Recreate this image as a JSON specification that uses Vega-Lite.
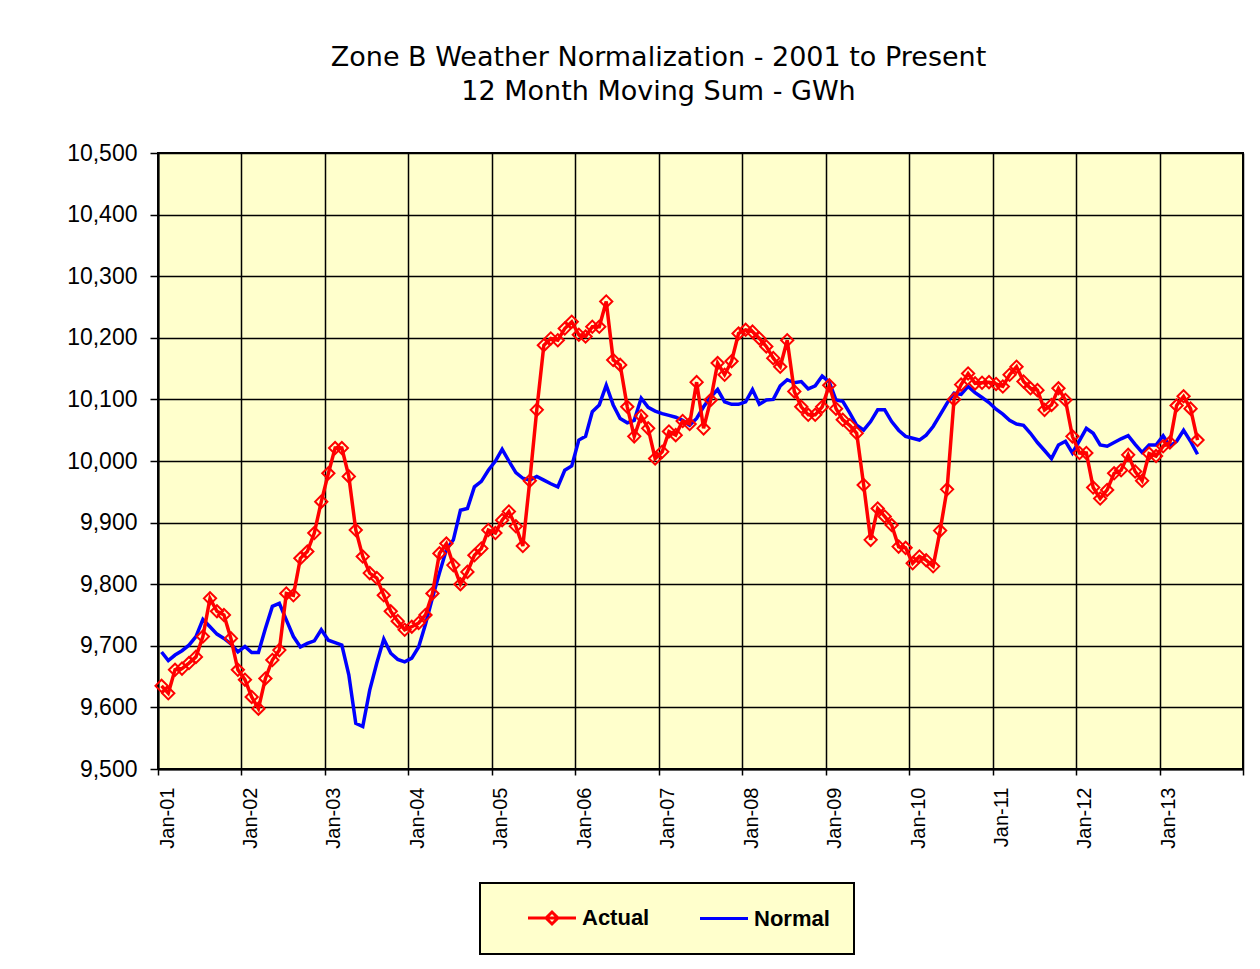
{
  "$schema": "https://vega.github.io/schema/vega-lite/v6.json",
  "width": 1085,
  "height": 616,
  "autosize": {"type": "none"},
  "padding": {"left": 158, "top": 153, "right": 17, "bottom": 200},
  "background": "white",
  "title": {
    "text": ["Zone B Weather Normalization - 2001 to Present", "12 Month Moving Sum - GWh"],
    "font": "DejaVu Sans",
    "fontSize": 27,
    "fontWeight": "normal",
    "color": "black",
    "anchor": "middle",
    "frame": "group",
    "dx": -42,
    "offset": 36,
    "lineHeight": 34
  },
  "config": {
    "view": {"fill": "#FFFFCC", "stroke": "black", "strokeWidth": 2}
  },
  "data": {
    "values": [
      {"d": "2001-01", "Actual": 9635, "Normal": 9690},
      {"d": "2001-02", "Actual": 9623, "Normal": 9676},
      {"d": "2001-03", "Actual": 9661, "Normal": 9685},
      {"d": "2001-04", "Actual": 9663, "Normal": 9692},
      {"d": "2001-05", "Actual": 9672, "Normal": 9701},
      {"d": "2001-06", "Actual": 9682, "Normal": 9715},
      {"d": "2001-07", "Actual": 9715, "Normal": 9743},
      {"d": "2001-08", "Actual": 9777, "Normal": 9731},
      {"d": "2001-09", "Actual": 9756, "Normal": 9719},
      {"d": "2001-10", "Actual": 9750, "Normal": 9712},
      {"d": "2001-11", "Actual": 9712, "Normal": 9703},
      {"d": "2001-12", "Actual": 9661, "Normal": 9690},
      {"d": "2002-01", "Actual": 9645, "Normal": 9699},
      {"d": "2002-02", "Actual": 9617, "Normal": 9689},
      {"d": "2002-03", "Actual": 9598, "Normal": 9689},
      {"d": "2002-04", "Actual": 9647, "Normal": 9728},
      {"d": "2002-05", "Actual": 9677, "Normal": 9764},
      {"d": "2002-06", "Actual": 9693, "Normal": 9769},
      {"d": "2002-07", "Actual": 9785, "Normal": 9742},
      {"d": "2002-08", "Actual": 9782, "Normal": 9715},
      {"d": "2002-09", "Actual": 9842, "Normal": 9698},
      {"d": "2002-10", "Actual": 9853, "Normal": 9704},
      {"d": "2002-11", "Actual": 9883, "Normal": 9708},
      {"d": "2002-12", "Actual": 9934, "Normal": 9726},
      {"d": "2003-01", "Actual": 9980, "Normal": 9709},
      {"d": "2003-02", "Actual": 10021, "Normal": 9705},
      {"d": "2003-03", "Actual": 10021, "Normal": 9701},
      {"d": "2003-04", "Actual": 9975, "Normal": 9653},
      {"d": "2003-05", "Actual": 9888, "Normal": 9574},
      {"d": "2003-06", "Actual": 9845, "Normal": 9569},
      {"d": "2003-07", "Actual": 9818, "Normal": 9628},
      {"d": "2003-08", "Actual": 9810, "Normal": 9672},
      {"d": "2003-09", "Actual": 9782, "Normal": 9711},
      {"d": "2003-10", "Actual": 9756, "Normal": 9688},
      {"d": "2003-11", "Actual": 9740, "Normal": 9678},
      {"d": "2003-12", "Actual": 9726, "Normal": 9674},
      {"d": "2004-01", "Actual": 9731, "Normal": 9680},
      {"d": "2004-02", "Actual": 9737, "Normal": 9698},
      {"d": "2004-03", "Actual": 9750, "Normal": 9735},
      {"d": "2004-04", "Actual": 9785, "Normal": 9778},
      {"d": "2004-05", "Actual": 9850, "Normal": 9818},
      {"d": "2004-06", "Actual": 9866, "Normal": 9856},
      {"d": "2004-07", "Actual": 9831, "Normal": 9872},
      {"d": "2004-08", "Actual": 9800, "Normal": 9920},
      {"d": "2004-09", "Actual": 9820, "Normal": 9923},
      {"d": "2004-10", "Actual": 9847, "Normal": 9958},
      {"d": "2004-11", "Actual": 9858, "Normal": 9967},
      {"d": "2004-12", "Actual": 9888, "Normal": 9985},
      {"d": "2005-01", "Actual": 9883, "Normal": 10000},
      {"d": "2005-02", "Actual": 9904, "Normal": 10019},
      {"d": "2005-03", "Actual": 9918, "Normal": 10000},
      {"d": "2005-04", "Actual": 9894, "Normal": 9981},
      {"d": "2005-05", "Actual": 9862, "Normal": 9972},
      {"d": "2005-06", "Actual": 9968, "Normal": 9969},
      {"d": "2005-07", "Actual": 10083, "Normal": 9975},
      {"d": "2005-08", "Actual": 10188, "Normal": 9969},
      {"d": "2005-09", "Actual": 10199, "Normal": 9963},
      {"d": "2005-10", "Actual": 10196, "Normal": 9958},
      {"d": "2005-11", "Actual": 10215, "Normal": 9985},
      {"d": "2005-12", "Actual": 10226, "Normal": 9992},
      {"d": "2006-01", "Actual": 10205, "Normal": 10034},
      {"d": "2006-02", "Actual": 10202, "Normal": 10040},
      {"d": "2006-03", "Actual": 10218, "Normal": 10080},
      {"d": "2006-04", "Actual": 10218, "Normal": 10091},
      {"d": "2006-05", "Actual": 10259, "Normal": 10123},
      {"d": "2006-06", "Actual": 10164, "Normal": 10091},
      {"d": "2006-07", "Actual": 10156, "Normal": 10069},
      {"d": "2006-08", "Actual": 10088, "Normal": 10062},
      {"d": "2006-09", "Actual": 10040, "Normal": 10066},
      {"d": "2006-10", "Actual": 10073, "Normal": 10102},
      {"d": "2006-11", "Actual": 10053, "Normal": 10087},
      {"d": "2006-12", "Actual": 10004, "Normal": 10081},
      {"d": "2007-01", "Actual": 10015, "Normal": 10077},
      {"d": "2007-02", "Actual": 10048, "Normal": 10074},
      {"d": "2007-03", "Actual": 10042, "Normal": 10071},
      {"d": "2007-04", "Actual": 10065, "Normal": 10066},
      {"d": "2007-05", "Actual": 10060, "Normal": 10058},
      {"d": "2007-06", "Actual": 10128, "Normal": 10069},
      {"d": "2007-07", "Actual": 10053, "Normal": 10088},
      {"d": "2007-08", "Actual": 10099, "Normal": 10104},
      {"d": "2007-09", "Actual": 10159, "Normal": 10116},
      {"d": "2007-10", "Actual": 10140, "Normal": 10096},
      {"d": "2007-11", "Actual": 10162, "Normal": 10092},
      {"d": "2007-12", "Actual": 10207, "Normal": 10092},
      {"d": "2008-01", "Actual": 10213, "Normal": 10096},
      {"d": "2008-02", "Actual": 10210, "Normal": 10116},
      {"d": "2008-03", "Actual": 10199, "Normal": 10092},
      {"d": "2008-04", "Actual": 10186, "Normal": 10099},
      {"d": "2008-05", "Actual": 10167, "Normal": 10100},
      {"d": "2008-06", "Actual": 10153, "Normal": 10122},
      {"d": "2008-07", "Actual": 10196, "Normal": 10132},
      {"d": "2008-08", "Actual": 10113, "Normal": 10127},
      {"d": "2008-09", "Actual": 10088, "Normal": 10129},
      {"d": "2008-10", "Actual": 10075, "Normal": 10117},
      {"d": "2008-11", "Actual": 10075, "Normal": 10122},
      {"d": "2008-12", "Actual": 10088, "Normal": 10138},
      {"d": "2009-01", "Actual": 10123, "Normal": 10128},
      {"d": "2009-02", "Actual": 10085, "Normal": 10099},
      {"d": "2009-03", "Actual": 10067, "Normal": 10097},
      {"d": "2009-04", "Actual": 10058, "Normal": 10078},
      {"d": "2009-05", "Actual": 10045, "Normal": 10058},
      {"d": "2009-06", "Actual": 9961, "Normal": 10050},
      {"d": "2009-07", "Actual": 9872, "Normal": 10064},
      {"d": "2009-08", "Actual": 9923, "Normal": 10083},
      {"d": "2009-09", "Actual": 9910, "Normal": 10083},
      {"d": "2009-10", "Actual": 9896, "Normal": 10064},
      {"d": "2009-11", "Actual": 9861, "Normal": 10050},
      {"d": "2009-12", "Actual": 9859, "Normal": 10040},
      {"d": "2010-01", "Actual": 9834, "Normal": 10037},
      {"d": "2010-02", "Actual": 9845, "Normal": 10034},
      {"d": "2010-03", "Actual": 9839, "Normal": 10042},
      {"d": "2010-04", "Actual": 9829, "Normal": 10056},
      {"d": "2010-05", "Actual": 9887, "Normal": 10075},
      {"d": "2010-06", "Actual": 9954, "Normal": 10094},
      {"d": "2010-07", "Actual": 10100, "Normal": 10110},
      {"d": "2010-08", "Actual": 10124, "Normal": 10108},
      {"d": "2010-09", "Actual": 10142, "Normal": 10121},
      {"d": "2010-10", "Actual": 10126, "Normal": 10111},
      {"d": "2010-11", "Actual": 10127, "Normal": 10103},
      {"d": "2010-12", "Actual": 10128, "Normal": 10095},
      {"d": "2011-01", "Actual": 10125, "Normal": 10084},
      {"d": "2011-02", "Actual": 10121, "Normal": 10076},
      {"d": "2011-03", "Actual": 10140, "Normal": 10066},
      {"d": "2011-04", "Actual": 10153, "Normal": 10060},
      {"d": "2011-05", "Actual": 10129, "Normal": 10058},
      {"d": "2011-06", "Actual": 10118, "Normal": 10045},
      {"d": "2011-07", "Actual": 10115, "Normal": 10030},
      {"d": "2011-08", "Actual": 10083, "Normal": 10017},
      {"d": "2011-09", "Actual": 10091, "Normal": 10004},
      {"d": "2011-10", "Actual": 10118, "Normal": 10026},
      {"d": "2011-11", "Actual": 10099, "Normal": 10032},
      {"d": "2011-12", "Actual": 10040, "Normal": 10013},
      {"d": "2012-01", "Actual": 10013, "Normal": 10033},
      {"d": "2012-02", "Actual": 10013, "Normal": 10053},
      {"d": "2012-03", "Actual": 9957, "Normal": 10045},
      {"d": "2012-04", "Actual": 9939, "Normal": 10026},
      {"d": "2012-05", "Actual": 9953, "Normal": 10024},
      {"d": "2012-06", "Actual": 9980, "Normal": 10030},
      {"d": "2012-07", "Actual": 9985, "Normal": 10036},
      {"d": "2012-08", "Actual": 10010, "Normal": 10041},
      {"d": "2012-09", "Actual": 9983, "Normal": 10027},
      {"d": "2012-10", "Actual": 9968, "Normal": 10014},
      {"d": "2012-11", "Actual": 10012, "Normal": 10026},
      {"d": "2012-12", "Actual": 10008, "Normal": 10026},
      {"d": "2013-01", "Actual": 10024, "Normal": 10041},
      {"d": "2013-02", "Actual": 10030, "Normal": 10024},
      {"d": "2013-03", "Actual": 10090, "Normal": 10032},
      {"d": "2013-04", "Actual": 10105, "Normal": 10050},
      {"d": "2013-05", "Actual": 10085, "Normal": 10032},
      {"d": "2013-06", "Actual": 10034, "Normal": 10011}
    ]
  },
  "transform": [{"fold": ["Actual", "Normal"], "as": ["series", "value"]}],
  "encoding": {
    "x": {
      "field": "d",
      "timeUnit": "utcyearmonth",
      "type": "temporal",
      "bandPosition": 0.5,
      "scale": {
        "domain": [
          {"year": 2001, "month": 1, "date": 1, "utc": true},
          {"year": 2014, "month": 1, "date": 1, "utc": true}
        ]
      },
      "axis": {
        "title": null,
        "values": [
          {"year": 2001, "month": 1, "date": 1, "utc": true},
          {"year": 2002, "month": 1, "date": 1, "utc": true},
          {"year": 2003, "month": 1, "date": 1, "utc": true},
          {"year": 2004, "month": 1, "date": 1, "utc": true},
          {"year": 2005, "month": 1, "date": 1, "utc": true},
          {"year": 2006, "month": 1, "date": 1, "utc": true},
          {"year": 2007, "month": 1, "date": 1, "utc": true},
          {"year": 2008, "month": 1, "date": 1, "utc": true},
          {"year": 2009, "month": 1, "date": 1, "utc": true},
          {"year": 2010, "month": 1, "date": 1, "utc": true},
          {"year": 2011, "month": 1, "date": 1, "utc": true},
          {"year": 2012, "month": 1, "date": 1, "utc": true},
          {"year": 2013, "month": 1, "date": 1, "utc": true},
          {"year": 2014, "month": 1, "date": 1, "utc": true}
        ],
        "format": "%b-%y",
        "labelExpr": "utcyear(datum.value) >= 2014 ? '' : datum.label",
        "labelAngle": 270,
        "labelAlign": "right",
        "labelBaseline": "middle",
        "labelOffset": 9,
        "labelPadding": 12,
        "labelFont": "Liberation Sans",
        "labelFontSize": 20,
        "labelColor": "black",
        "labelFlush": false,
        "labelOverlap": false,
        "tickColor": "black",
        "tickSize": 6,
        "tickWidth": 1.5,
        "domainColor": "black",
        "domainWidth": 2,
        "grid": true,
        "gridColor": "black",
        "gridWidth": 1.5,
        "gridOpacity": 1
      }
    },
    "y": {
      "field": "value",
      "type": "quantitative",
      "scale": {"domain": [9500, 10500], "nice": false, "zero": false},
      "axis": {
        "title": null,
        "values": [9500, 9600, 9700, 9800, 9900, 10000, 10100, 10200, 10300, 10400, 10500],
        "format": ",.0f",
        "labelFont": "Liberation Sans",
        "labelFontSize": 23,
        "labelColor": "black",
        "labelPadding": 13,
        "tickColor": "black",
        "tickSize": 8,
        "tickWidth": 1.5,
        "domainColor": "black",
        "domainWidth": 2,
        "grid": true,
        "gridColor": "black",
        "gridWidth": 1.5,
        "gridOpacity": 1
      }
    },
    "color": {
      "field": "series",
      "type": "nominal",
      "scale": {"domain": ["Actual", "Normal"], "range": ["#FF0000", "#0000FF"]},
      "legend": {
        "title": null,
        "orient": "none",
        "legendX": 322,
        "legendY": 730,
        "direction": "horizontal",
        "columns": 2,
        "fillColor": "#FFFFCC",
        "strokeColor": "black",
        "padding": 24,
        "columnPadding": 26,
        "labelFont": "Liberation Sans",
        "labelFontSize": 22,
        "labelFontWeight": "bold",
        "labelColor": "black",
        "symbolSize": 144,
        "symbolStrokeWidth": 3,
        "symbolOffset": 37,
        "labelOffset": 19,
        "encode": {
          "legend": {"update": {"strokeWidth": {"value": 2}}},
          "symbols": {
            "update": {
              "shape": [
                {"test": "datum.value === 'Actual'", "value": "M-4,0H4M-1,0L0,-1L1,0L0,1Z"},
                {"value": "M-4,0H4"}
              ],
              "fill": {"value": "transparent"},
              "stroke": [
                {"test": "datum.value === 'Actual'", "value": "#FF0000"},
                {"value": "#0000FF"}
              ],
              "strokeWidth": {"value": 3},
              "opacity": {"value": 1}
            }
          }
        }
      }
    }
  },
  "layer": [
    {
      "transform": [{"filter": "datum.series === 'Normal'"}],
      "mark": {"type": "line", "strokeWidth": 3.5}
    },
    {
      "transform": [{"filter": "datum.series === 'Actual'"}],
      "mark": {"type": "line", "strokeWidth": 3.5}
    },
    {
      "transform": [{"filter": "datum.series === 'Actual'"}],
      "mark": {"type": "point", "shape": "diamond", "filled": false, "size": 150, "strokeWidth": 2, "opacity": 1}
    }
  ]
}
